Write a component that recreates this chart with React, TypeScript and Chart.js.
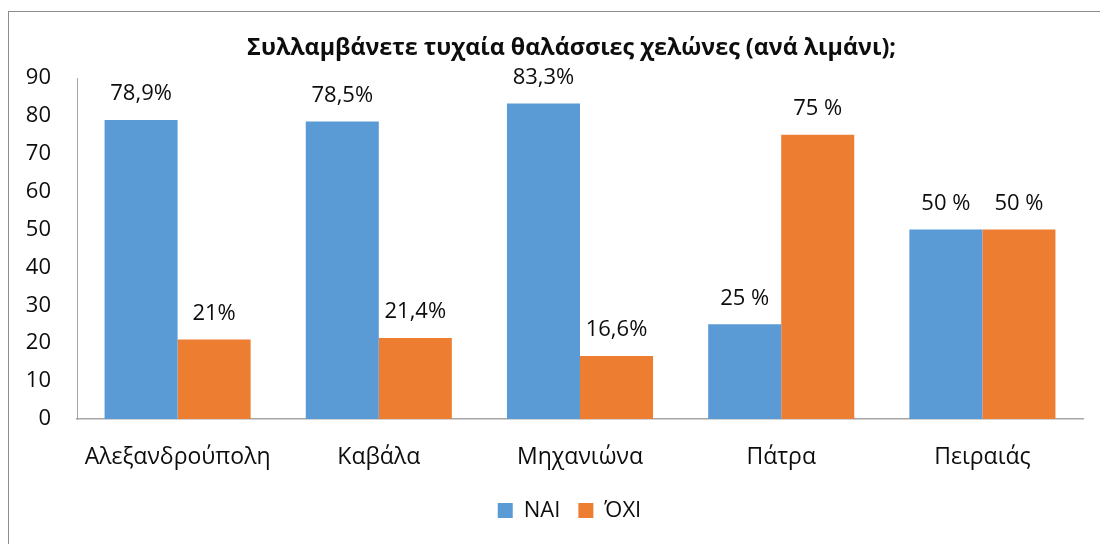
import React, { useEffect, useRef } from 'react';
import { Chart, registerables } from 'chart.js';

Chart.register(...registerables);

const chartTitle = 'Συλλαμβάνετε τυχαία θαλάσσιες χελώνες (ανά λιμάνι);';
const categories = ['Αλεξανδρούπολη', 'Καβάλα', 'Μηχανιώνα', 'Πάτρα', 'Πειραιάς'];
const seriesNames = ['ΝΑΙ', 'ΌΧΙ'];
const yesValues = [78.9, 78.5, 83.3, 25, 50];
const noValues = [21, 21.4, 16.6, 75, 50];
const yesLabels = ['78,9%', '78,5%', '83,3%', '25 %', '50 %'];
const noLabels = ['21%', '21,4%', '16,6%', '75 %', '50 %'];
const yMin = 0;
const yMax = 90;
const yStep = 10;

const FONT = "'Open Sans', 'Noto Sans', sans-serif";
const TEXT = '#0d0d0d';

const valueLabelPlugin = {
  id: 'valueLabels',
  afterDatasetsDraw(chart: any) {
    const ctx = chart.ctx;
    ctx.save();
    ctx.font = `22px ${FONT}`;
    ctx.fillStyle = TEXT;
    ctx.textAlign = 'center';
    ctx.textBaseline = 'middle';
    chart.data.datasets.forEach((ds: any, di: number) => {
      const meta = chart.getDatasetMeta(di);
      meta.data.forEach((bar: any, i: number) => {
        const txt = ds.valueLabels[i];
        ctx.fillText(txt, bar.x, bar.y - 26);
      });
    });
    ctx.restore();
  },
};

const boxShiftPlugin = {
  id: 'boxShift',
  afterLayout(chart: any) {
    const l = chart.legend;
    if (l) {
      l.left += 23.5;
      l.right += 23.5;
    }
    const t = chart.titleBlock;
    if (t) {
      t.left += 25.5;
      t.right += 25.5;
    }
  },
};

export default function App() {
  const ref = useRef<HTMLCanvasElement | null>(null);

  useEffect(() => {
    if (!ref.current) return;
    const chart = new Chart(ref.current, {
      type: 'bar',
      data: {
        labels: categories,
        datasets: [
          {
            label: seriesNames[0],
            data: yesValues,
            valueLabels: yesLabels,
            backgroundColor: '#5B9BD5',
            borderWidth: 0,
          } as any,
          {
            label: seriesNames[1],
            data: noValues,
            valueLabels: noLabels,
            backgroundColor: '#ED7D31',
            borderWidth: 0,
          } as any,
        ],
      },
      options: {
        responsive: false,
        animation: false,
        maintainAspectRatio: false,
        layout: { padding: { top: 0, left: 0, right: 17, bottom: 12.5 } },
        datasets: {
          bar: { categoryPercentage: 0.726, barPercentage: 1 },
        },
        scales: {
          x: {
            grid: { display: false, drawTicks: false },
            border: { display: true, color: '#a6a6a6', width: 1.5 },
            ticks: {
              color: TEXT,
              font: { family: FONT, size: 23 },
              padding: 25,
              maxRotation: 0,
              autoSkip: false,
            },
            afterFit(scale: any) {
              scale.height = 62.5;
            },
          },
          y: {
            min: yMin,
            max: yMax,
            grid: { display: false, drawTicks: false },
            border: { display: true, color: '#a6a6a6', width: 1 },
            ticks: {
              stepSize: yStep,
              color: TEXT,
              font: { family: FONT, size: 22 },
              padding: 26,
            },
            afterFit(scale: any) {
              scale.width = 68;
            },
          },
        },
        plugins: {
          title: {
            display: true,
            text: chartTitle,
            color: TEXT,
            font: { family: FONT, size: 23.3, weight: 'bold' },
            padding: { top: 22, bottom: 16.04 },
          },
          legend: {
            display: true,
            position: 'bottom',
            labels: {
              color: TEXT,
              font: { family: FONT, size: 22 },
              boxWidth: 15,
              boxHeight: 15,
              padding: 18,
            },
          },
          tooltip: { enabled: false },
        },
      },
      plugins: [valueLabelPlugin, boxShiftPlugin],
    });
    return () => chart.destroy();
  }, []);

  return (
    <div
      style={{
        position: 'fixed',
        left: 8,
        top: 11,
        width: 1092,
        height: 533,
        borderLeft: '1px solid #8c8c8c',
        borderTop: '1px solid #8c8c8c',
        boxSizing: 'border-box',
        background: '#fff',
      }}
    >
      <canvas ref={ref} width={1091} height={532} style={{ display: 'block' }} />
    </div>
  );
}
